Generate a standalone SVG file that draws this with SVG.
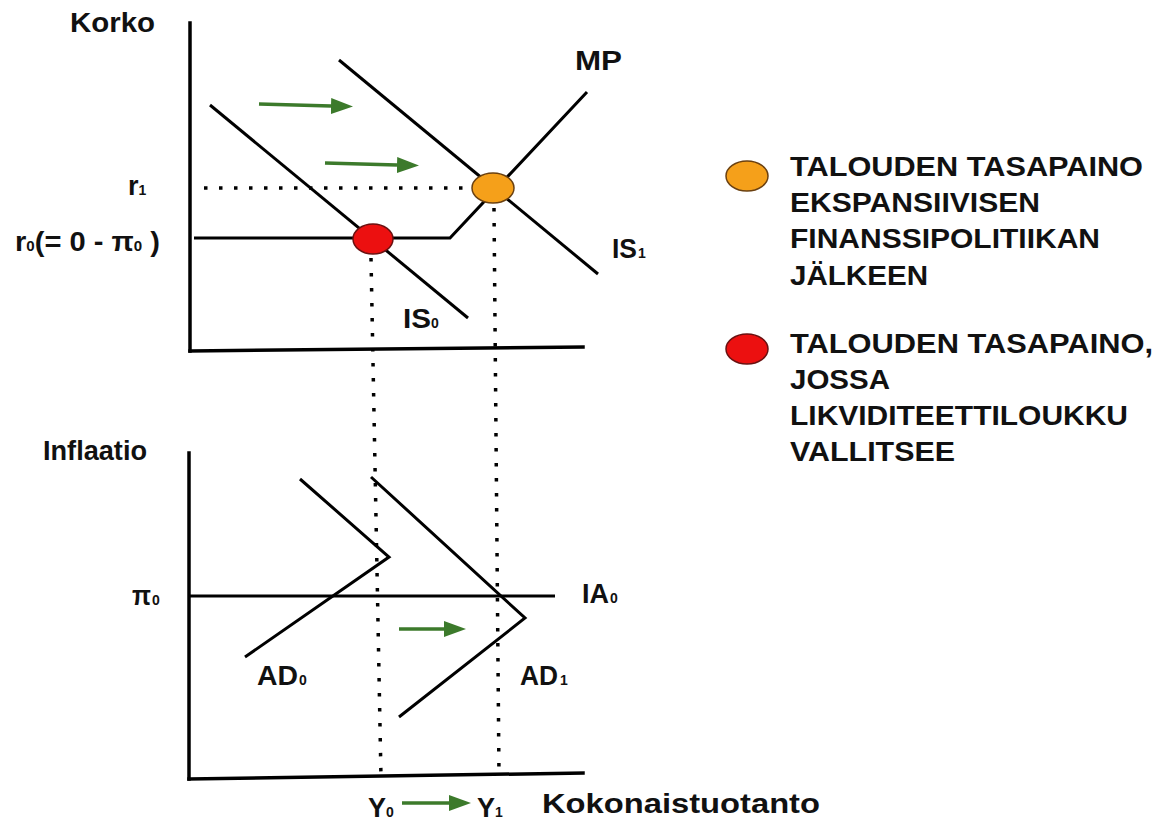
<svg xmlns="http://www.w3.org/2000/svg" width="1169" height="823" viewBox="0 0 1169 823">
  <style>
    .t { font-family: "Liberation Sans", Arial, sans-serif; font-weight: bold; fill: #111; font-size: 27px; }
    .sub { font-size: 14px; }
    .ax { stroke: #000; stroke-width: 3.5; fill: none; stroke-linecap: square; }
    .cv { stroke: #000; stroke-width: 3; fill: none; }
    .dot { stroke: #000; stroke-width: 3.5; fill: none; stroke-dasharray: 3.5 11.5; }
    .gr { stroke: #3c7a2b; stroke-width: 3.5; fill: none; marker-end: url(#head); }
    .red { fill: #ec1010; stroke: #6a1010; stroke-width: 1.5; }
    .org { fill: #f5a01a; stroke: #6a4010; stroke-width: 1.5; }
  </style>
  <defs>
    <marker id="head" markerUnits="userSpaceOnUse" markerWidth="24" markerHeight="18" refX="0" refY="8" orient="auto">
      <path d="M0,0 L22,8 L0,16 z" fill="#3c7a2b"/>
    </marker>
  </defs>
  <rect width="1169" height="823" fill="#fff"/>

  <!-- interest rate panel -->
  <g id="rate-axes">
    <line class="ax" x1="190" y1="23" x2="190" y2="351"/>
    <line class="ax" x1="190" y1="351" x2="583" y2="347"/>
    <text class="t" x="70" y="32" textLength="85" lengthAdjust="spacingAndGlyphs">Korko</text>
    <text class="t" x="128" y="195">r<tspan class="sub">1</tspan></text>
    <text class="t" x="15" y="251" textLength="145" lengthAdjust="spacingAndGlyphs">r<tspan class="sub">0</tspan>(= 0 - π<tspan class="sub">0</tspan> )</text>
  </g>

  <g id="connectors">
    <!-- guide lines -->
    <line class="dot" x1="204" y1="188" x2="470" y2="188"/>
    <line class="dot" x1="371" y1="258" x2="381" y2="778"/>
    <line class="dot" x1="494" y1="208" x2="499" y2="776"/>
    <!-- shift arrows -->
    <line class="gr" x1="259" y1="104" x2="331" y2="106"/>
    <line class="gr" x1="325" y1="163" x2="397" y2="165"/>
    <line class="gr" x1="399" y1="629" x2="444" y2="629"/>
    <line class="gr" x1="402" y1="803" x2="449" y2="803"/>
  </g>

  <g id="IS0">
    <line class="cv" x1="210" y1="105" x2="468" y2="318"/>
    <text class="t" x="403" y="328" textLength="28" lengthAdjust="spacingAndGlyphs">IS</text>
    <text class="t sub" x="431" y="328">0</text>
  </g>
  <g id="IS1">
    <line class="cv" x1="339" y1="60" x2="598" y2="274"/>
    <text class="t" x="612" y="258" font-size="28" textLength="25" lengthAdjust="spacingAndGlyphs">IS</text>
    <text class="t sub" x="638" y="258">1</text>
  </g>
  <g id="MP">
    <polyline class="cv" points="194,238 450,238 587,92"/>
    <text class="t" x="575" y="70" textLength="47" lengthAdjust="spacingAndGlyphs">MP</text>
  </g>
  <g id="eq-before">
    <ellipse class="red" cx="373" cy="239" rx="20" ry="15"/>
  </g>
  <g id="eq-after">
    <ellipse class="org" cx="493" cy="188" rx="21" ry="15"/>
  </g>

  <!-- inflation panel -->
  <g id="inflation-axes">
    <line class="ax" x1="189" y1="453" x2="189" y2="779"/>
    <line class="ax" x1="189" y1="779" x2="583" y2="773"/>
    <text class="t" x="43" y="460" textLength="104" lengthAdjust="spacingAndGlyphs">Inflaatio</text>
    <text class="t" x="132" y="605" textLength="19" lengthAdjust="spacingAndGlyphs">π</text>
    <text class="t sub" x="152" y="605">0</text>
    <text class="t" x="368" y="817">Y<tspan class="sub">0</tspan></text>
    <text class="t" x="477" y="817">Y<tspan class="sub">1</tspan></text>
    <text class="t" x="542" y="813" textLength="278" lengthAdjust="spacingAndGlyphs">Kokonaistuotanto</text>
  </g>
  <g id="IA0">
    <line class="cv" x1="189" y1="596" x2="555" y2="596"/>
    <text class="t" x="582" y="603" textLength="27" lengthAdjust="spacingAndGlyphs">IA</text>
    <text class="t sub" x="610" y="603">0</text>
  </g>
  <g id="AD0">
    <polyline class="cv" points="300,479 389,557 245,657"/>
    <text class="t" x="257" y="685" textLength="41" lengthAdjust="spacingAndGlyphs">AD</text>
    <text class="t sub" x="299" y="685">0</text>
  </g>
  <g id="AD1">
    <polyline class="cv" points="371,477 525,618 399,717"/>
    <text class="t" x="520" y="685" textLength="38" lengthAdjust="spacingAndGlyphs">AD</text>
    <text class="t sub" x="560" y="685">1</text>
  </g>

  <!-- legend -->
  <g id="legend-after">
    <ellipse class="org" cx="747" cy="176" rx="21" ry="15"/>
    <text class="t" x="790" y="176" textLength="353" lengthAdjust="spacingAndGlyphs">TALOUDEN TASAPAINO</text>
    <text class="t" x="790" y="212" textLength="250" lengthAdjust="spacingAndGlyphs">EKSPANSIIVISEN</text>
    <text class="t" x="790" y="248" textLength="310" lengthAdjust="spacingAndGlyphs">FINANSSIPOLITIIKAN</text>
    <text class="t" x="790" y="285" textLength="138" lengthAdjust="spacingAndGlyphs">JÄLKEEN</text>
  </g>
  <g id="legend-before">
    <ellipse class="red" cx="747" cy="349" rx="21" ry="15"/>
    <text class="t" x="790" y="353" textLength="363" lengthAdjust="spacingAndGlyphs">TALOUDEN TASAPAINO,</text>
    <text class="t" x="790" y="389" textLength="100" lengthAdjust="spacingAndGlyphs">JOSSA</text>
    <text class="t" x="790" y="425" textLength="338" lengthAdjust="spacingAndGlyphs">LIKVIDITEETTILOUKKU</text>
    <text class="t" x="790" y="461" textLength="165" lengthAdjust="spacingAndGlyphs">VALLITSEE</text>
  </g>
</svg>
